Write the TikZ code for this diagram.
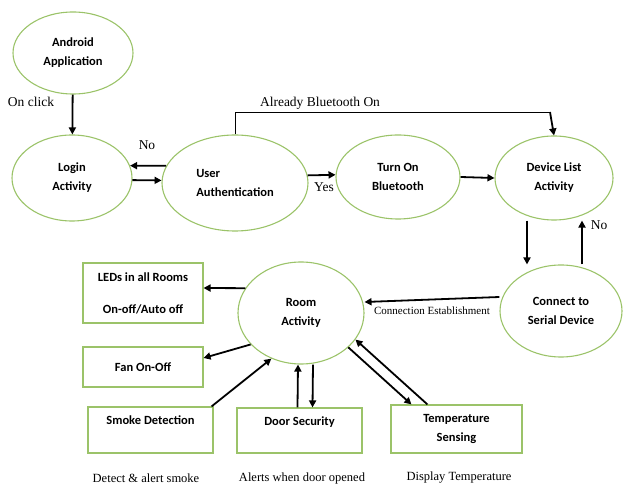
\documentclass[tikz,border=0pt]{standalone}
\usepackage{fontspec}
\setmainfont{Liberation Serif}
\newfontfamily\boxfont{Carlito}
\usetikzlibrary{arrows.meta,shapes.geometric}
\definecolor{ovalgreen}{RGB}{155,195,105}

\tikzset{
  oval/.style={ellipse,draw=ovalgreen,line width=1.1pt,inner sep=0pt,
    font=\boxfont\bfseries\fontsize{12.5}{19}\selectfont,align=center},
  unit/.style={rectangle,draw=ovalgreen,line width=1.1pt,inner sep=0pt,
    font=\boxfont\bfseries\fontsize{12.5}{19}\selectfont,align=center},
  flow/.style={line width=1.8pt,-{Triangle[length=7pt,width=7pt]}},
  tag/.style={font=\fontsize{13.5}{16}\selectfont,inner sep=1pt},
  note/.style={font=\fontsize{12.5}{15}\selectfont,inner sep=1pt}
}

\begin{document}
\begin{tikzpicture}[x=1pt,y=-1pt]
  \useasboundingbox (0,0) rectangle (625,494);

  % states
  \node[oval,minimum width=120pt,minimum height=82pt] (android) at (73,53) {Android\\Application};
  \node[oval,minimum width=120pt,minimum height=86pt] (login) at (72,178) {Login\\Activity};
  \node[oval,minimum width=146pt,minimum height=96pt] (auth) at (235,183) {\begin{tabular}{@{}l@{}}User\\Authentication\end{tabular}};
  \node[oval,minimum width=124pt,minimum height=84pt] (bton) at (398,177) {Turn On\\Bluetooth};
  \node[oval,minimum width=118pt,minimum height=84pt] (devlist) at (554,178) {Device List\\Activity};
  \node[oval,minimum width=122pt,minimum height=92pt] (serial) at (561,311) {Connect to\\Serial Device};
  \node[oval,minimum width=126pt,minimum height=102pt] (room) at (301,313) {Room\\Activity};

  % room units
  \node[unit,minimum width=120pt,minimum height=60pt] (leds) at (143,293) {LEDs in all Rooms\\[13pt]On-off/Auto off};
  \node[unit,minimum width=120pt,minimum height=40pt] (fan) at (143,367) {Fan On-Off};
  \node[unit,minimum width=125pt,minimum height=46pt] (smoke) at (150.5,430) {Smoke Detection\\\mbox{}};
  \node[unit,minimum width=125pt,minimum height=45pt] (door) at (299.5,430.5) {Door Security\\\mbox{}};
  \node[unit,minimum width=131pt,minimum height=48pt] (temp) at (456.5,429) {Temperature\\Sensing};

  \node[note] (smokenote) at (146,478) {Detect \& alert smoke};
  \node[note] (doornote) at (302,478) {Alerts when door opened};
  \node[note] (tempnote) at (459,478) {Display Temperature};

  % connectors
  \draw[flow] (android) -- (login);
  \node[tag] (onclick) at (31,102) {On click};
  \draw[flow] (auth.166) -- (login.12);
  \draw[flow] (login.-2) -- (auth.178);
  \node[tag] (no1) at (147,145) {No};
  \draw[flow] (auth.6) -- (bton.178);
  \node[tag] (yes) at (324,187) {Yes};
  \draw[flow] (bton.east) -- (devlist.west);
  \coordinate (bend) at (550,112);
  \draw[line width=0.9pt] (auth.north) |- (bend);
  \draw[flow] (bend) -- (devlist.north);
  \node[tag,anchor=south] (already) at (320,111) {Already Bluetooth On};
  \draw[flow] ([xshift=-27pt]devlist.south) -- ([xshift=-34pt]serial.north);
  \draw[flow] ([xshift=21pt]serial.north) -- ([xshift=28pt]devlist.south);
  \node[tag] (no2) at (599,225) {No};
  \draw[flow] ([yshift=14pt]serial.west) -- ([yshift=11pt]room.east);
  \node[font=\fontsize{11}{13}\selectfont,inner sep=1pt] (connest) at (432,311) {Connection Establishment};

  \draw[flow] (room.156) -- ([yshift=5pt]leds.east);
  \draw[flow] (room.212) -- ([yshift=9pt]fan.east);
  \draw[flow] ([xshift=-2pt]smoke.north east) -- (room.237);
  \draw[flow] ([xshift=-2pt]door.north) -- ([xshift=-3pt]room.south);
  \draw[flow] ([xshift=12pt]room.south) -- ([xshift=13pt]door.north);
  \draw[flow] (room.-36) -- ([xshift=21pt]temp.north west);
  \draw[flow] ([xshift=37pt]temp.north west) -- (room.-26);
\end{tikzpicture}
\end{document}
